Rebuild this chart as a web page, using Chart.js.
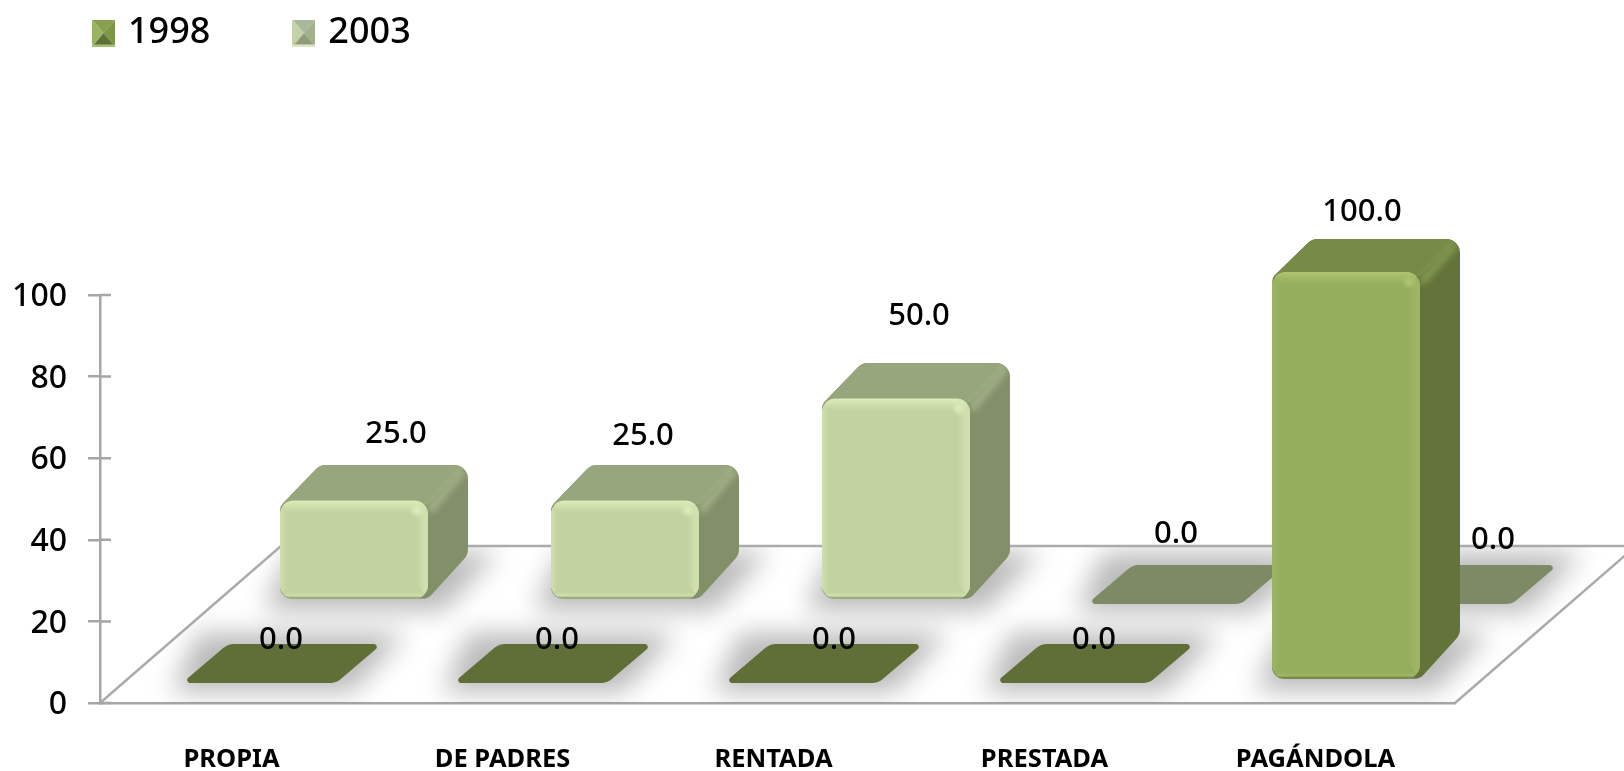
<!DOCTYPE html>
<html><head><meta charset="utf-8">
<style>html,body{margin:0;padding:0;background:#fff;overflow:hidden}canvas{display:block;filter:blur(.4px)}</style>
<script src="https://cdn.jsdelivr.net/npm/chart.js@4"></script>
</head><body><canvas id="c" width="1624" height="771"></canvas>
<script>
const categories = ["PROPIA","DE PADRES","RENTADA","PRESTADA","PAGÁNDOLA"];
const values1998 = [0,0,0,0,100];
const values2003 = [25,25,50,0,0];
const yTicks = [0,20,40,60,80,100];
const seriesNames = ["1998","2003"];
const nudge1998 = [[19,-40],[24,-40],[30,-40],[19,-40],[16,-60]];
const nudge2003 = [[42,-64],[18,-62],[23,-80],[9,-66],[55,-60]];

const FONT = '"Noto Sans"';
const lookFront = {sx:26.5, sy:-23, flatOff:3, topOff:0, face:'#95ae5d', top:'#778a47', side:'#63733a', hi:'#adc572', mid:'#9db566', lo:'#5f7034', flat:'#5f6f37', topHi:'#82964f'};
const lookBack  = {sx:118.5, sy:-103, flatOff:4, topOff:2.5, face:'#c2d3a0', top:'#97a67c', side:'#838f69', hi:'#dcedb9', mid:'#cfdfae', lo:'#7f8f5c', flat:'#7e8a66', topHi:'#a0ae86'};
const DX=40, DY=33, DYB=44, FLAT=39;

function roundPoly(ctx, pts, radii){
  const n=pts.length;
  ctx.beginPath();
  const m=[(pts[0][0]+pts[n-1][0])/2,(pts[0][1]+pts[n-1][1])/2];
  ctx.moveTo(m[0],m[1]);
  for(let i=0;i<n;i++){const a=pts[i],b=pts[(i+1)%n];ctx.arcTo(a[0],a[1],b[0],b[1],radii[i]);}
  ctx.closePath();
}
function lin(ctx,x0,y0,x1,y1,stops){const g=ctx.createLinearGradient(x0,y0,x1,y1);stops.forEach(s=>g.addColorStop(s[0],s[1]));return g;}

class Box3D extends Chart.BarElement{
  static id='box3d';
  draw(ctx){
    const k=this.look; if(!k) return;
    const hw=this.width/2, xl=this.x-hw+k.sx, xr=this.x+hw+k.sx;
    const yb=this.base+k.sy, yt=this.y+k.sy;
    ctx.save();
    if(yb-yt<1){
      const f=yb+k.flatOff;
      roundPoly(ctx,[[xl-6,f],[xr,f],[xr+DX+6,f-FLAT],[xl+DX,f-FLAT]],[3,16,3,16]);
      ctx.fillStyle=k.flat;ctx.fill();ctx.restore();return;
    }
    const ft=yt+k.topOff, fb=yb;
    roundPoly(ctx,[[xl,ft+6],[xl+DX,yt-DY],[xr+DX,yt-DY],[xr+DX,yb-DYB],[xr,fb],[xl,fb]],[10,14,14,14,12,12]);
    ctx.fillStyle=k.side;ctx.fill();
    ctx.save();ctx.clip();
    ctx.beginPath();ctx.moveTo(xl-2,ft+4);ctx.lineTo(xl+DX,yt-DY-2);ctx.lineTo(xr+DX,yt-DY-2);ctx.lineTo(xr,ft+4);ctx.closePath();
    ctx.fillStyle=k.top;ctx.fill();
    ctx.filter='blur(3px)';
    ctx.beginPath();ctx.moveTo(xr-2,ft+6);ctx.lineTo(xr+DX-8,yt-DY+2);ctx.lineTo(xr+DX,yt-DY+6);ctx.lineTo(xr+4,ft+14);ctx.closePath();
    ctx.fillStyle=k.topHi;ctx.fill();
    ctx.filter='none';
    ctx.restore();
    // front face
    const r=14;
    ctx.beginPath();ctx.roundRect(xl,ft,xr-xl,fb-ft,r);
    ctx.fillStyle=k.face;ctx.fill();
    ctx.save();ctx.clip();
    const b=12;
    ctx.fillStyle=lin(ctx,xl,0,xl+7,0,[[0,k.mid],[1,k.face]]);ctx.fillRect(xl,ft,7,fb-ft);
    ctx.fillStyle=lin(ctx,xr-12,0,xr,0,[[0,k.face],[.65,k.mid],[1,k.mid]]);ctx.fillRect(xr-12,ft,12,fb-ft);
    ctx.fillStyle=lin(ctx,0,ft,0,ft+b,[[0,k.hi],[1,k.face]]);
    ctx.beginPath();ctx.moveTo(xl,ft);ctx.lineTo(xr,ft);ctx.lineTo(xr-9,ft+b);ctx.lineTo(xl+6,ft+b);ctx.closePath();ctx.fill();
    ctx.fillStyle=lin(ctx,0,fb-b,0,fb,[[0,k.face],[.45,k.face],[.75,k.mid],[1,k.lo]]);
    ctx.beginPath();ctx.moveTo(xl,fb);ctx.lineTo(xr,fb);ctx.lineTo(xr-9,fb-b);ctx.lineTo(xl+6,fb-b);ctx.closePath();ctx.fill();
    ctx.filter='blur(2px)';ctx.fillStyle=k.hi;ctx.beginPath();ctx.arc(xr-11,ft+10,5,0,7);ctx.fill();ctx.filter='none';
    ctx.restore();
    ctx.restore();
  }
}
class Bar3DController extends Chart.BarController{
  static id='bar3d';
  static defaults={dataElementType:'box3d'};
  draw(){
    const look=this.getDataset().look;
    this._cachedMeta.data.forEach(e=>{e.look=look;});
    super.draw();
  }
}
Chart.register(Box3D,Bar3DController);

function marker(light){
  const c=document.createElement('canvas');c.width=23;c.height=27;
  const x=c.getContext('2d');const W=23,H=27;
  const cols=light?['#aab89a','#a4b08c','#8f9b78','#c4d2aa']:['#86a04e','#7d9648','#5f7036','#9ab562'];
  const mid=[W/2,H/2];
  [[[0,0],[W,0]],[[W,0],[W,H]],[[W,H],[0,H]],[[0,H],[0,0]]].forEach((e,i)=>{
    x.beginPath();x.moveTo(e[0][0],e[0][1]);x.lineTo(e[1][0],e[1][1]);x.lineTo(mid[0],mid[1]);x.closePath();
    x.fillStyle=cols[i];x.fill();
  });
  x.fillStyle=light?'#dbe7c6':'#a7bf70';x.fillRect(0,H-2,W,2);
  return c;
}

const PAD=87;
const scene={
  id:'scene',
  afterLayout(chart){
    const L=chart.legend; if(L){L.left=97-PAD;L.top=33-18-PAD;}
  },
  beforeDatasetsDraw(chart){
    const ctx=chart.ctx,a=chart.chartArea,y0=chart.scales.y.getPixelForValue(0);
    const ddx=181,ddy=157;
    ctx.save();
    const floor=[[a.left,y0],[a.right,y0],[a.right+ddx,y0-ddy],[a.left+ddx,y0-ddy]];
    ctx.save();
    ctx.beginPath();floor.forEach((p,i)=>i?ctx.lineTo(p[0],p[1]):ctx.moveTo(p[0],p[1]));ctx.closePath();ctx.clip();
    ctx.filter='blur(13px)';ctx.fillStyle='rgba(0,0,0,.27)';
    [[lookBack,1],[lookFront,0]].forEach(([k,i])=>{
      chart.getDatasetMeta(i).data.forEach(el=>{
        const hw=el.width/2,xl=el.x-hw+k.sx,xr=el.x+hw+k.sx,yb=el.base+k.sy;
        ctx.beginPath();ctx.moveTo(xl-16,yb+12);ctx.lineTo(xr+16,yb+12);ctx.lineTo(xr+DX+30,yb-FLAT-8);ctx.lineTo(xl+DX-30,yb-FLAT-8);ctx.closePath();ctx.fill();
      });
    });
    ctx.restore();
    ctx.strokeStyle='#ababab';ctx.lineWidth=2.5;
    ctx.beginPath();ctx.moveTo(a.left,y0);ctx.lineTo(a.left+ddx,y0-ddy);ctx.lineTo(a.right+ddx,y0-ddy);ctx.moveTo(a.right,y0);ctx.lineTo(a.right+ddx,y0-ddy);ctx.stroke();
    ctx.strokeStyle='#a6a6a6';ctx.beginPath();
    chart.scales.y.ticks.forEach(t=>{const p=chart.scales.y.getPixelForValue(t.value);ctx.moveTo(a.left,p);ctx.lineTo(a.left+11,p);});ctx.stroke();
    ctx.restore();
  },
  afterDatasetsDraw(chart){
    const ctx=chart.ctx;
    ctx.save();ctx.fillStyle='#000';ctx.font='500 31px '+FONT;ctx.textAlign='center';ctx.textBaseline='middle';
    [[lookBack,1,nudge2003],[lookFront,0,nudge1998]].forEach(([k,i,n])=>{
      const ds=chart.data.datasets[i];
      chart.getDatasetMeta(i).data.forEach((el,j)=>{
        ctx.fillText(ds.data[j].toFixed(1),el.x+k.sx+n[j][0],el.y+k.sy+n[j][1]);
      });
    });
    ctx.restore();
  }
};

const markers=[marker(false),marker(true)];
const chart=new Chart(document.getElementById('c'),{
  type:'bar3d',
  data:{labels:categories,datasets:[
    {label:seriesNames[0],data:values1998,look:lookFront,backgroundColor:lookFront.face,clip:false},
    {label:seriesNames[1],data:values2003,look:lookBack,backgroundColor:lookBack.face,clip:false}
  ]},
  plugins:[scene],
  options:{
    responsive:false,animation:false,
    grouped:false,categoryPercentage:1,barPercentage:148/271,
    layout:{padding:{left:0,right:169,top:0,bottom:0}},
    plugins:{
      tooltip:{enabled:false},
      legend:{display:true,position:'top',align:'start',
        labels:{usePointStyle:true,pointStyleWidth:13,padding:PAD,color:'#000',font:{family:FONT,size:36,weight:'500'},
          generateLabels:()=>seriesNames.map((n,i)=>({text:n,datasetIndex:i,pointStyle:markers[i],fillStyle:'#000',strokeStyle:'#000',lineWidth:0,fontColor:'#000'}))}}
    },
    scales:{
      x:{type:'category',offset:true,
        afterFit(s){s.height=68;},
        grid:{display:true,offset:true,drawOnChartArea:false,drawTicks:false},
        border:{color:'#a6a6a6',width:2.5},
        ticks:{padding:41,labelOffset:-4,maxRotation:0,autoSkip:false,color:'#000',font:{family:FONT,size:25.5,weight:'bold'}}},
      y:{type:'linear',min:0,max:100,
        afterFit(s){s.width=100;},
        afterBuildTicks(s){s.ticks=yTicks.map(v=>({value:v}));},
        grid:{drawOnChartArea:false,drawTicks:true,tickLength:12,color:'#a6a6a6',lineWidth:2.5},
        border:{color:'#a6a6a6',width:2.5},
        ticks:{padding:21,labelOffset:2,color:'#000',font:{family:FONT,size:32,weight:'500'}}}
    }
  }
});
chart.options.layout.padding.top+=295-chart.chartArea.top;
chart.update('none');
</script></body></html>
